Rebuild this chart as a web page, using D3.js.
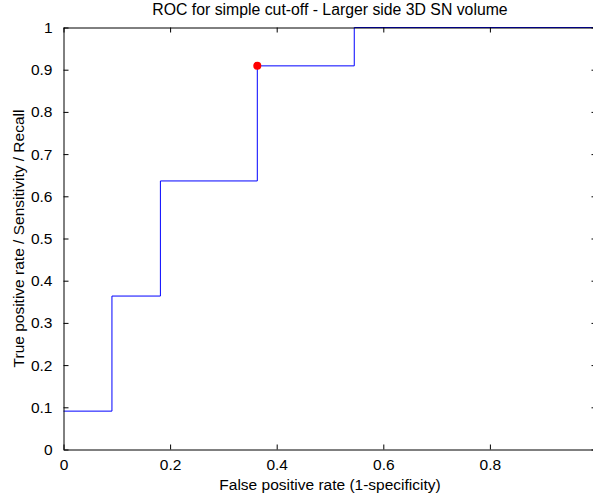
<!DOCTYPE html>
<html>
<head>
<meta charset="utf-8">
<script src="https://cdn.jsdelivr.net/npm/d3@7"></script>
<style>
  html, body { margin: 0; padding: 0; background: #fff; }
  svg { display: block; }
  text { font-family: "Liberation Sans", Arial, sans-serif; fill: #000; }
</style>
</head>
<body>
<svg id="chart" width="593" height="499"></svg>
<script>
// ROC curve points (false positive rate, true positive rate)
const fpr = [0, 0.0909, 0.0909, 0.1818, 0.1818, 0.3636, 0.3636, 0.5455, 0.5455, 1];
const tpr = [0.0909, 0.0909, 0.3636, 0.3636, 0.6364, 0.6364, 0.9091, 0.9091, 1, 1];

// Chosen cut-off operating point
const cutFpr = [0.3636];
const cutTpr = [0.9091];

const xTicks = [0, 0.2, 0.4, 0.6, 0.8];
const yTicks = [0, 0.1, 0.2, 0.3, 0.4, 0.5, 0.6, 0.7, 0.8, 0.9, 1];

const titleText = "ROC for simple cut-off - Larger side 3D SN volume";
const xLabelText = "False positive rate (1-specificity)";
const yLabelText = "True positive rate / Sensitivity / Recall";

const svg = d3.select("#chart");
const plotLeft = 63.5, plotRight = 596.5, plotTop = 27.5, plotBottom = 449.5;
const fontSize = 15.5;

const x = d3.scaleLinear().domain([0, 1]).range([plotLeft, plotRight]);
const y = d3.scaleLinear().domain([0, 1]).range([plotBottom, plotTop]);

// Curve
const pts = fpr.map((v, i) => [v, tpr[i]]);
svg.append("path")
  .datum(pts)
  .attr("fill", "none")
  .attr("stroke", "#0000ff")
  .attr("stroke-width", 1)
  .attr("d", d3.line().x(d => x(d[0])).y(d => y(d[1])));

// Axes (ticks pointing inward, box style)
const tickLen = 5;
function styleAxis(g) {
  g.selectAll("path.domain").attr("stroke", "#000").attr("stroke-width", 1);
  g.selectAll(".tick line").attr("stroke", "#000");
  g.selectAll(".tick text").attr("font-size", fontSize).attr("font-family", "Liberation Sans, Arial, sans-serif").attr("fill", "#000");
}

const fmt = d => (d === 0 ? "0" : d === 1 ? "1" : d3.format(".1f")(d));

svg.append("g")
  .attr("transform", `translate(0,${plotBottom})`)
  .call(d3.axisBottom(x).tickValues(xTicks).tickFormat(fmt).tickSizeInner(-tickLen).tickSizeOuter(0).tickPadding(tickLen + 4))
  .call(styleAxis);

svg.append("g")
  .attr("transform", `translate(0,${plotTop})`)
  .call(d3.axisTop(x).tickValues(xTicks).tickFormat("").tickSizeInner(-tickLen).tickSizeOuter(0))
  .call(styleAxis);

svg.append("g")
  .attr("transform", `translate(${plotLeft},0)`)
  .call(d3.axisLeft(y).tickValues(yTicks).tickFormat(fmt).tickSizeInner(-tickLen).tickSizeOuter(0).tickPadding(tickLen + 6))
  .call(styleAxis);

svg.append("g")
  .attr("transform", `translate(${plotRight},0)`)
  .call(d3.axisRight(y).tickValues(yTicks).tickFormat("").tickSizeInner(-tickLen).tickSizeOuter(0))
  .call(styleAxis);

// Operating point marker
svg.append("g").selectAll("circle")
  .data(cutFpr.map((v, i) => [v, cutTpr[i]]))
  .join("circle")
  .attr("cx", d => x(d[0]))
  .attr("cy", d => y(d[1]))
  .attr("r", 4)
  .attr("fill", "#ff0000");

// Title and axis labels
const cx = (plotLeft + plotRight) / 2;
svg.append("text")
  .attr("x", cx).attr("y", 15)
  .attr("text-anchor", "middle")
  .attr("font-size", 15.8)
  .text(titleText);

svg.append("text")
  .attr("x", cx).attr("y", 490)
  .attr("text-anchor", "middle")
  .attr("font-size", fontSize)
  .text(xLabelText);

svg.append("text")
  .attr("transform", `translate(24,${(plotTop + plotBottom) / 2}) rotate(-90)`)
  .attr("text-anchor", "middle")
  .attr("font-size", fontSize)
  .text(yLabelText);
</script>
</body>
</html>
